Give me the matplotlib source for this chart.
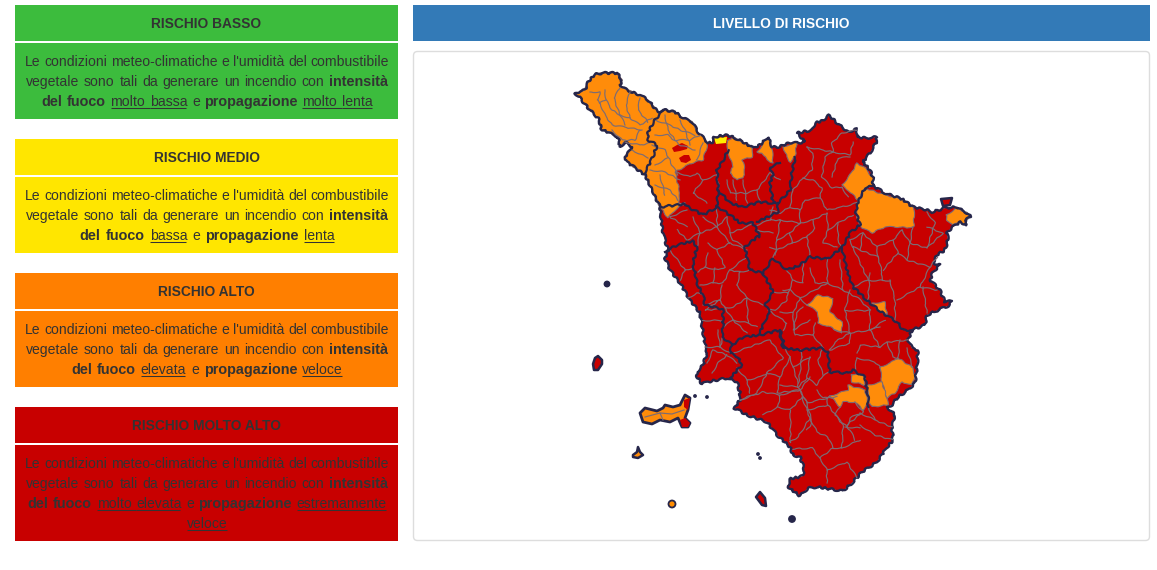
import matplotlib
matplotlib.use('Agg')
import matplotlib.pyplot as plt
from matplotlib.patches import Polygon, Rectangle, FancyBboxPatch, Circle

plt.rcParams['font.family'] = ['Liberation Sans', 'DejaVu Sans']

# legend panels
panel_titles = ['RISCHIO BASSO', 'RISCHIO MEDIO', 'RISCHIO ALTO', 'RISCHIO MOLTO ALTO']
panel_colors = ['#3cbc3d', '#ffe600', '#ff7f00', '#c80000']
line_1 = [('Le condizioni meteo-climatiche e l\'umidità del combustibile', 'n')]
line_2 = [('vegetale sono tali da generare un incendio con', 'n'), ('intensità', 'b')]
panel_lines = [
    [line_1, line_2, [('del fuoco', 'b'), ('molto bassa', 'u'), ('e', 'n'), ('propagazione', 'b'), ('molto lenta', 'u')]],
    [line_1, line_2, [('del fuoco', 'b'), ('bassa', 'u'), ('e', 'n'), ('propagazione', 'b'), ('lenta', 'u')]],
    [line_1, line_2, [('del fuoco', 'b'), ('elevata', 'u'), ('e', 'n'), ('propagazione', 'b'), ('veloce', 'u')]],
    [line_1, line_2, [('del fuoco', 'b'), ('molto elevata', 'u'), ('e', 'n'), ('propagazione', 'b'), ('estremamente', 'u')],
     [('veloce', 'u')]],
]
# width of each text line in the picture
panel_widths = [[364, 362, 331], [364, 362, 255], [364, 362, 272], [364, 362, 359, 40]]
map_title = 'LIVELLO DI RISCHIO'

# map shapes, in pixels
outline = [(575,93),(585,90),(588,82),(595,74),(603,73),(617,73),(622,80),(620,85),(627,90),(640,95),(648,100),
    (658,112),(665,110),(675,112),(683,118),(692,122),(698,132),(708,143),(713,142),(714,137),(727,135),(735,138),
    (745,143),(753,148),(760,145),(768,137),(772,147),(780,147),(783,145),(793,142),(797,143),(805,142),(797,133),
    (812,130),(815,123),(822,121),(829,115),(837,123),(848,132),(857,129),(857,137),(867,138),(877,137),(876,143),
    (870,153),(863,162),(870,170),(873,178),(873,186),(885,193),(902,199),(913,207),(927,210),(932,212),(945,208),
    (957,207),(967,213),(971,217),(965,220),(967,225),(960,222),(953,227),(947,232),(948,240),(945,250),(937,255),
    (933,263),(940,265),(933,272),(930,280),(940,290),(945,302),(952,301),(948,306),(943,308),(927,315),(925,325),
    (912,330),(908,340),(912,348),(918,350),(917,367),(915,383),(908,390),(897,398),(892,405),(887,407),(895,415),
    (892,427),(893,440),(885,450),(877,462),(862,472),(852,483),(843,491),(817,487),(808,488),(800,496),(788,487),
    (790,479),(803,476),(804,468),(800,457),(793,455),(790,447),(777,435),(767,422),(747,415),(734,408),(740,400),
    (740,393),(737,382),(727,378),(707,382),(702,384),(697,377),(697,372),(703,365),(707,353),(705,343),(702,327),
    (700,313),(690,300),(680,283),(670,270),(665,258),(668,250),(664,237),(662,227),(660,207),(653,192),(645,175),
    (627,162),(625,157),(632,147),(625,142),(620,147),(618,137),(608,132),(602,130),(598,118),(588,108),(580,98)]

orange_areas = [
    [(575,93),(585,90),(588,82),(595,74),(603,73),(617,73),(622,80),(620,85),(627,90),(640,95),(648,100),(658,112),
     (665,110),(675,112),(683,118),(692,122),(698,132),(708,143),(703,160),(692,163),(675,172),(680,193),(678,203),
     (685,203),(675,210),(668,218),(660,207),(653,192),(645,175),(627,162),(625,157),(632,147),(625,142),(620,147),
     (618,137),(608,132),(602,130),(598,118),(588,108),(580,98)],
    [(728,150),(730,158),(733,167),(730,173),(737,180),(743,178),(745,168),(742,160),(752,157),(753,148),(745,143),(735,138),(727,140)],
    [(757,152),(768,137),(772,147),(773,163),(767,160),(762,153)],
    [(783,147),(793,143),(797,143),(795,157),(790,162),(787,157)],
    [(842,185),(850,175),(857,163),(865,168),(873,178),(873,186),(865,188),(858,200),(848,190)],
    [(858,202),(865,188),(885,195),(902,199),(914,207),(914,226),(907,228),(900,227),(885,227),(872,233),(862,228),(856,217)],
    [(807,305),(818,295),(833,298),(830,312),(842,322),(842,333),(830,327),(818,323),(818,312)],
    [(872,303),(885,302),(887,315),(878,310)],
    [(880,367),(890,363),(898,358),(912,367),(915,375),(912,385),(902,382),(895,393),(887,398),(882,383)],
    [(868,385),(882,382),(887,398),(888,405),(872,407),(868,400)],
    [(830,396),(848,390),(848,385),(865,390),(868,403),(863,410),(855,402),(843,402),(840,407)],
    [(851,375),(858,373),(865,378),(865,385),(852,382)],
    [(946,215),(957,208),(967,213),(971,217),(965,220),(967,225),(960,222),(953,225),(947,220)],
]
yellow_area = [(714,138),(727,137),(726,143),(716,144)]
red_spots = [[(672,148),(677,145),(682,143),(688,146),(687,149),(680,151),(674,152)],
    [(679,158),(684,155),(689,155),(691,160),(686,163),(681,162)]]

elba = [(640,413),(645,408),(657,411),(663,408),(665,405),(673,407),(680,405),(685,395),(690,398),(688,410),(685,418),
    (690,423),(688,427),(682,427),(678,418),(670,422),(660,420),(652,424),(643,422)]
elba_red = [[(680,420),(685,418),(690,423),(688,427),(682,427)], [(684,400),(690,398),(688,410),(684,407)]]
elba_lines = [[(645,417),(660,413),(672,414),(684,410)], [(660,413),(663,420)]]
red_islands = [[(593,364),(595,358),(598,356),(602,360),(602,364),(598,370),(594,370)],
    [(941,199),(952,198),(950,205),(943,206)],
    [(756,497),(760,492),(765,498),(766,506),(762,505)]]
orange_islands = [[(633,455),(637,452),(638,447),(640,452),(643,455),(638,458),(633,457)]]
dot_x = [607, 792, 672, 758, 760, 695, 707]
dot_y = [284, 519, 504, 454, 458, 396, 397]
dot_r = [2.5, 3, 3.5, 1, 1, 1, 1]
dot_fill = ['#26264a', '#26264a', '#ff8c00', '#26264a', '#26264a', '#26264a', '#26264a']

province_lines = [
    [(663,110),(655,120),(648,132),(648,140),(657,145),(653,157),(645,172)],
    [(660,207),(685,204),(690,208),(703,215),(717,207),(718,190),(717,170),(725,157),(728,150)],
    [(718,190),(730,203),(743,207),(760,202),(773,203),(778,203),(790,190),(792,172),(795,157)],
    [(718,207),(733,217),(740,223),(753,223),(760,237),(757,237),(745,247),(750,270),(763,273),(773,292),(765,305),(770,313),(765,320),(760,333)],
    [(778,203),(778,212),(757,222)],
    [(780,163),(770,167),(773,175),(770,183),(773,203)],
    [(873,186),(865,188),(858,202),(856,213),(860,225),(850,233),(842,248),(827,259),(810,257),(800,265),(787,270),(773,258),(763,273)],
    [(842,248),(847,270),(853,287),(870,303),(883,313),(897,322),(903,330),(912,330)],
    [(780,333),(783,348),(800,350),(823,348),(828,353),(830,372),(847,373),(853,370),(865,377),(868,397),(868,407)],
    [(665,252),(677,245),(693,241),(697,247),(693,263),(697,283),(703,295),(705,305),(723,309),(723,327),(722,337),(732,345),(730,353),(738,357),(742,365),(730,378)],
    [(732,345),(743,337),(760,335),(780,330),(785,348)],
]

town_lines = [
    # Lunigiana and Versilia
    [(590,92),(600,92),(598,100)], [(605,90),(606,100),(612,110),(620,115)], [(620,88),(614,98),(618,110),(625,125)],
    [(630,92),(626,105),(630,118),(640,125),(652,118)], [(640,98),(638,110),(648,122)],
    [(600,103),(605,115),(612,125),(630,128),(642,130)], [(612,130),(622,140),(635,140),(640,130)],
    [(625,142),(640,145),(650,143)], [(632,150),(648,158)], [(655,120),(670,125),(680,130),(695,135)],
    [(665,115),(668,130),(675,140),(690,140),(700,135)], [(655,135),(668,135),(680,145),(695,150)],
    [(652,145),(665,150),(672,165),(678,175)], [(680,120),(685,130),(690,145)], [(703,143),(697,160)],
    [(650,170),(665,172),(680,180)], [(655,185),(670,190),(678,200)], [(660,175),(665,195)], [(655,165),(668,158)],
    [(598,100),(600,103)], [(606,100),(600,103)], [(620,115),(630,118)],
    # Appennino and Mugello
    [(807,147),(813,153),(812,170),(803,178),(793,190)], [(807,147),(833,152),(832,143),(842,133),(857,130)],
    [(833,152),(850,155),(853,142)], [(833,152),(825,157),(822,177),(832,188),(842,187)], [(850,157),(838,158),(832,177)],
    [(803,178),(813,180),(822,188),(820,198),(827,210),(842,207),(857,203)], [(842,187),(848,197)],
    [(820,198),(805,200),(800,210),(790,207),(780,213),(770,210)], [(800,210),(800,223),(790,233),(792,243),(777,250),(770,247)],
    [(800,223),(813,220),(827,213)], [(827,213),(828,230),(823,243),(837,247)], [(813,220),(815,228),(807,237),(810,257)],
    [(828,230),(838,223),(853,215)], [(838,223),(838,240),(842,248)], [(793,190),(790,207)], [(792,243),(807,237)],
    [(777,250),(773,258)], [(780,220),(800,223)],
    # Arezzo
    [(850,240),(863,233),(877,247),(893,240),(902,230)], [(863,233),(860,250),(878,257),(882,272),(882,280)],
    [(893,240),(898,253),(883,270)], [(913,227),(910,243),(927,248),(943,233),(927,227)], [(927,212),(935,223),(927,248)],
    [(910,243),(907,260),(930,267),(937,257)], [(853,247),(868,280)], [(890,280),(895,300),(895,320)],
    [(897,300),(920,287),(937,290)], [(870,273),(868,300)], [(923,287),(927,313)], [(882,280),(890,280)],
    [(868,280),(882,280)], [(868,280),(853,287)], [(930,267),(920,287)], [(907,260),(898,253)], [(877,247),(878,257)],
    [(902,230),(910,243)], [(860,250),(853,247)], [(850,240),(853,247)],
    # Siena
    [(827,283),(843,290),(858,298),(870,310),(870,330),(850,333),(850,343),(830,350)],
    [(780,312),(793,313),(800,298),(790,290),(783,290)], [(793,313),(795,335),(813,335),(815,323)], [(800,298),(807,305)],
    [(813,335),(823,348)], [(835,330),(850,333),(835,342),(830,350)], [(880,327),(870,330),(880,347),(888,342),(908,340)],
    [(857,353),(860,345),(880,347)], [(857,358),(855,370)], [(857,358),(875,362),(880,367)], [(887,342),(893,357),(898,358)],
    [(900,340),(898,358)], [(907,348),(912,367)], [(850,290),(845,310),(850,333)], [(800,298),(815,290),(827,283)],
    [(845,310),(870,310)], [(870,330),(885,320)], [(810,268),(815,283),(827,283)], [(827,259),(827,283)], [(840,260),(843,290)],
    # Grosseto
    [(780,385),(798,387),(807,378),(817,385),(823,375),(830,372)], [(802,357),(798,387),(807,403),(827,398),(830,396)],
    [(807,403),(812,423),(807,430)], [(840,407),(835,415),(850,430),(855,440)], [(855,402),(863,412),(847,425)],
    [(868,407),(875,420),(892,427)], [(860,425),(875,435),(893,440)],
    [(740,400),(763,392),(780,395),(778,407),(763,415)], [(780,395),(800,390)],
    [(802,397),(810,418),(798,437),(790,442)], [(810,418),(817,432),(828,437),(833,448),(820,458),(812,448),(793,449)],
    [(807,410),(828,405),(843,425),(842,448),(833,448)], [(820,458),(827,470),(827,483)], [(827,470),(847,462),(857,478)],
    [(845,427),(860,428)], [(842,448),(860,440)], [(817,390),(823,398),(837,397)], [(847,427),(850,418),(860,413)],
    [(733,353),(760,343),(770,340),(783,358),(767,373),(780,377),(790,357)], [(747,380),(760,377),(767,373),(757,393),(740,400)],
    [(737,368),(747,380),(750,393)], [(780,377),(777,393),(800,390),(810,377)], [(793,367),(810,357)], [(790,357),(793,367),(798,383)],
    [(785,348),(790,357)], [(810,357),(807,378)], [(802,357),(800,350)], [(823,375),(818,360),(823,348)], [(800,390),(807,403)],
    [(778,407),(790,410),(802,397)], [(790,410),(790,442)], [(827,398),(828,405)], [(860,413),(875,420)],
    # Livorno and Pisa
    [(670,250),(685,270),(680,280)], [(685,270),(693,268)], [(688,298),(697,293),(703,295)], [(703,305),(720,300),(705,310),(723,309)],
    [(702,320),(722,320)], [(705,347),(720,347),(723,337)], [(720,347),(730,353)], [(718,330),(720,347)],
    [(707,363),(713,350),(727,355),(737,363)], [(712,373),(718,363),(727,355)],
    [(708,253),(705,267),(698,272)], [(705,267),(718,270),(725,267),(717,250)], [(708,243),(717,250),(730,243),(747,250)],
    [(713,283),(715,268)], [(700,285),(713,283),(723,283),(730,270),(740,272)],
    [(722,285),(720,300),(725,308),(733,320),(747,333)], [(737,285),(747,298),(733,307),(725,308)], [(747,298),(763,305)],
    [(733,320),(748,323),(757,327)], [(747,298),(748,323)],
    [(773,292),(788,293),(787,300),(775,310),(768,310),(787,323),(783,330)], [(788,293),(793,280),(787,270)],
    [(793,280),(803,283),(803,262)], [(803,307),(797,313),(793,330),(810,320)], [(740,272),(750,270)], [(737,285),(740,272)],
    [(733,320),(723,327)], [(730,270),(745,258)],
    # Lucca, Pistoia, Firenze
    [(677,172),(690,177),(697,173),(703,180),(693,193),(707,203)], [(703,180),(717,175),(719,188)],
    [(727,180),(730,193),(747,193),(757,190),(770,173),(780,180)], [(733,180),(737,200)], [(743,180),(747,203)], [(757,190),(760,202)],
    [(687,210),(670,217),(687,227)], [(693,217),(700,233),(717,227),(727,217)], [(703,217),(717,227),(717,207)],
    [(727,217),(730,233),(747,227),(753,223)], [(700,233),(687,240),(677,230)], [(773,207),(770,220),(780,220),(777,240)],
    [(757,230),(773,233)], [(730,233),(733,240),(745,247)], [(700,233),(697,247)], [(717,227),(730,243)], [(770,220),(757,225)],
    [(777,240),(790,233)], [(775,255),(777,240)],
]

px = 0.72  # points per pixel at dpi 100
text_size = 14 * px
bold_size = 14.4 * px
text_color = '#333333'
edge_color = '#26264a'
town_color = '#7c6c74'
coast_wobble = (1.0, 10, 3)
town_wobble = (0.6, 16, 3)

fig = plt.figure(figsize=(11.57, 5.70), dpi=100, facecolor='white')
ax = fig.add_axes([0, 0, 1, 1])
ax.set_xlim(0, 1157)
ax.set_ylim(570, 0)
ax.axis('off')
renderer = fig.canvas.get_renderer()


def word_width(word, style):
    size = bold_size if style == 'b' else text_size
    weight = 'bold' if style == 'b' else 'normal'
    t = ax.text(0, 0, word, fontsize=size, fontweight=weight)
    w = t.get_window_extent(renderer).width
    t.remove()
    return w


def draw_line(cx, base, runs, width):
    # place word by word, the gaps take up what is left of the line width
    words = [(w, s, r) for r, (text, s) in enumerate(runs) for w in text.split(' ')]
    widths = [word_width(w, s) for w, s, r in words]
    gap = (width - sum(widths)) / max(len(words) - 1, 1)
    x = cx - width / 2
    for i, ((word, s, r), w) in enumerate(zip(words, widths)):
        ax.text(x, base, word, fontsize=bold_size if s == 'b' else text_size, color=text_color,
                va='baseline', ha='left', fontweight='bold' if s == 'b' else 'normal')
        if s == 'u':
            same_run = i + 1 < len(words) and words[i + 1][2] == r
            end = x + w + gap if same_run else x + w - 1
            ax.plot([x, end], [base + 2, base + 2], color=text_color, lw=0.75, solid_capstyle='butt')
        x += w + gap


# left column
panel_left, panel_w = 15, 383
tops = [5, 139, 273, 407]
for title, col, lines, widths, top in zip(panel_titles, panel_colors, panel_lines, panel_widths, tops):
    body_h = 16 + 20 * len(lines)
    ax.add_patch(Rectangle((panel_left, top), panel_w, 36, fc=col, ec='none'))
    ax.add_patch(Rectangle((panel_left, top + 38), panel_w, body_h, fc=col, ec='none'))
    ax.text(panel_left + panel_w / 2, top + 23, title, fontsize=13.8 * px, fontweight='bold',
            color=text_color, ha='center', va='baseline')
    for i, (runs, width) in enumerate(zip(lines, widths)):
        draw_line(panel_left + panel_w / 2 + 0.5, top + 61 + 20 * i, runs, width)

# right column
ax.add_patch(Rectangle((413, 5), 737, 36, fc='#337ab7', ec='none'))
ax.text(781.5, 28, map_title, fontsize=13.8 * px, fontweight='bold', color='white', ha='center', va='baseline')
ax.add_patch(FancyBboxPatch((413.5, 51.5), 736, 489, boxstyle='round,pad=0,rounding_size=4',
                            fc='white', ec='#dddddd', lw=1))

# map
ax.add_patch(Polygon(outline, closed=True, fc='#c80000', ec='none'))
for area in orange_areas:
    p = ax.add_patch(Polygon(area, closed=True, fc='#ff8c0a', ec=town_color, lw=0.8, joinstyle='round'))
    p.set_sketch_params(*town_wobble)
ax.add_patch(Polygon(yellow_area, closed=True, fc='#ffee00', ec='none'))
for spot in red_spots:
    ax.add_patch(Polygon(spot, closed=True, fc='#c80000', ec='none'))
for seg in town_lines:
    l, = ax.plot([p[0] for p in seg], [p[1] for p in seg], color=town_color, lw=0.85, solid_joinstyle='round')
    l.set_sketch_params(*town_wobble)
for seg in province_lines:
    l, = ax.plot([p[0] for p in seg], [p[1] for p in seg], color=edge_color, lw=1.6, solid_joinstyle='round')
    l.set_sketch_params(*coast_wobble)
p = ax.add_patch(Polygon(outline, closed=True, fc='none', ec=edge_color, lw=1.7, joinstyle='round'))
p.set_sketch_params(*coast_wobble)

ax.add_patch(Polygon(elba, closed=True, fc='#ff8c0a', ec=edge_color, lw=2.0, joinstyle='round'))
for part in elba_red:
    ax.add_patch(Polygon(part, closed=True, fc='#c80000', ec='none'))
for seg in elba_lines:
    ax.plot([p[0] for p in seg], [p[1] for p in seg], color=town_color, lw=0.85)
for isl in red_islands:
    ax.add_patch(Polygon(isl, closed=True, fc='#c80000', ec=edge_color, lw=1.8, joinstyle='round'))
for isl in orange_islands:
    ax.add_patch(Polygon(isl, closed=True, fc='#ff8c0a', ec=edge_color, lw=1.8, joinstyle='round'))
for x, y, r, c in zip(dot_x, dot_y, dot_r, dot_fill):
    ax.add_patch(Circle((x, y), r, fc=c, ec=edge_color, lw=1.3))

fig.savefig('out.png', dpi=100, facecolor='white')
